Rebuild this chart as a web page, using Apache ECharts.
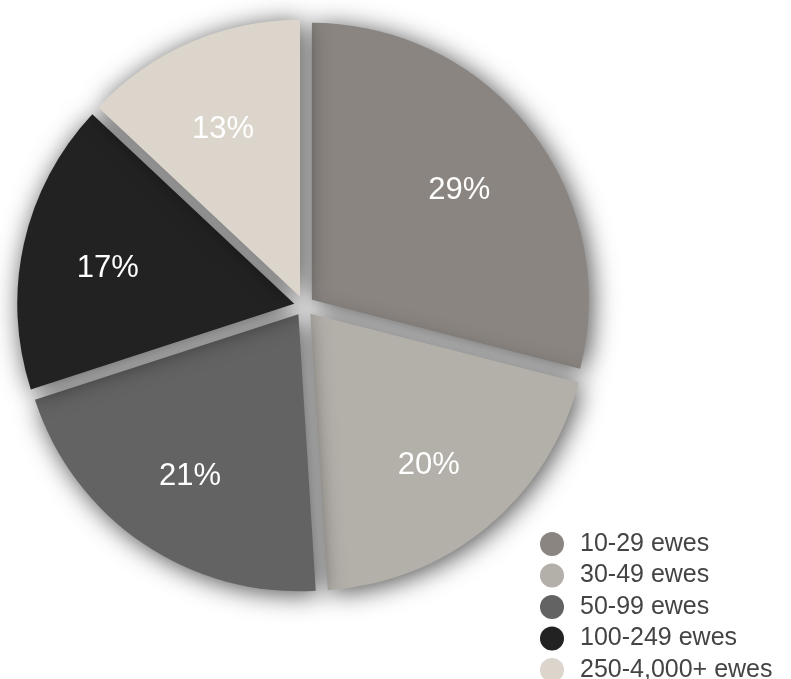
<!DOCTYPE html>
<html><head><meta charset="utf-8">
<script src="https://cdn.jsdelivr.net/npm/echarts@6/dist/echarts.min.js"></script>
<style>html,body{margin:0;padding:0;background:#fff}#c{width:791px;height:679px}</style>
</head><body><div id="c"></div>
<script>
const categories = ['10-29 ewes','30-49 ewes','50-99 ewes','100-249 ewes','250-4,000+ ewes'];
const values = [29, 20, 21, 17, 13];
const colors = ['#8a8581','#b3afa9','#636363','#222222','#dbd5cc'];
const FONT = "'Liberation Sans', Arial, Helvetica, sans-serif";
const chart = echarts.init(document.getElementById('c'));
const center = [304, 306];
const offset = 10;
chart.setOption({
  animation: false,
  legend: {
    orient: 'vertical', left: 535, top: 526.5, height: 180,
    icon: 'circle', itemWidth: 24, itemHeight: 24, itemGap: 6.5,
    selectedMode: false,
    textStyle: { fontFamily: FONT, fontSize: 25, lineHeight: 24, color: '#444', padding: [0,0,0,11] },
    data: categories.map((n,i)=>({ name: n, itemStyle: { color: colors[i] } }))
  },
  series: [{
    type: 'pie', center: center, radius: [0, 277], startAngle: 90, clockwise: true,
    selectedMode: 'multiple', selectedOffset: offset, silent: true,
    label: { show: false }, labelLine: { show: false },
    itemStyle: { shadowBlur: 26, shadowColor: 'rgba(0,0,0,0.7)', shadowOffsetX: 3, shadowOffsetY: 3 },
    data: categories.map((n,i)=>({ name: n, value: values[i], selected: true, itemStyle: { color: colors[i] } }))
  },{
    type: 'pie', center: [center[0] - 2, center[1] + 6], radius: [100, 272], startAngle: 90, clockwise: true,
    selectedMode: 'multiple', selectedOffset: offset, silent: true,
    itemStyle: { color: 'rgba(0,0,0,0)' },
    label: { show: true, position: 'inside', formatter: '{c}%', color: '#fff', fontFamily: FONT, fontSize: 31 },
    labelLine: { show: false },
    data: categories.map((n,i)=>({ name: n, value: values[i], selected: true }))
  }]
});
</script></body></html>
